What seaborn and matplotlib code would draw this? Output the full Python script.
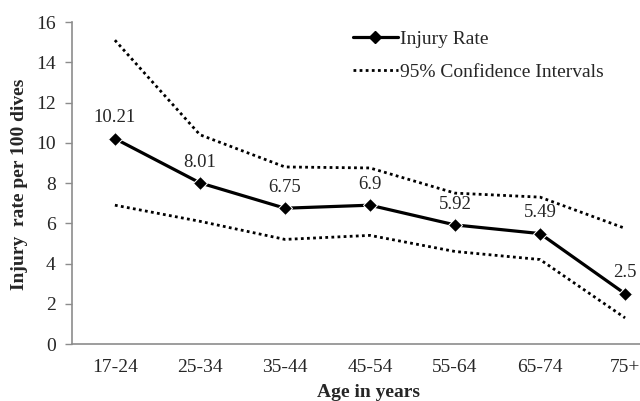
import matplotlib
matplotlib.use("Agg")
import matplotlib.pyplot as plt
import pandas as pd
import seaborn as sns
from matplotlib.lines import Line2D

# Data
age_groups = ["17-24", "25-34", "35-44", "45-54", "55-64", "65-74", "75+"]
injury_rate = [10.21, 8.01, 6.75, 6.9, 5.92, 5.49, 2.5]
ci_upper = [15.1, 10.4, 8.8, 8.75, 7.5, 7.3, 5.75]
ci_lower = [6.9, 6.1, 5.2, 5.4, 4.6, 4.2, 1.3]

df = pd.DataFrame({
    "age": age_groups,
    "rate": injury_rate,
    "upper": ci_upper,
    "lower": ci_lower,
})

sns.set_style("white")
plt.rcParams["font.family"] = ["Liberation Serif", "DejaVu Serif"]

fig = plt.figure(figsize=(6.4, 4.01), dpi=100)
ax = fig.add_axes([0.1131, 0.142, 0.93, 0.803])

dots = (0, (1, 1.2))
sns.lineplot(data=df, x="age", y="upper", color="black", linewidth=2,
             linestyle=dots, ax=ax, sort=False)
sns.lineplot(data=df, x="age", y="lower", color="black", linewidth=2,
             linestyle=dots, ax=ax, sort=False)
sns.lineplot(data=df, x="age", y="rate", color="black", linewidth=2.3,
             marker="D", markersize=7.5, ax=ax, sort=False)

# data labels above each point
for i, v in enumerate(injury_rate):
    ax.annotate(f"{v:g}", (i, v), xytext=(0, 15), textcoords="offset points",
                ha="center", va="center", fontsize=13.5)

ax.set_xlim(-0.5, 6.5)
ax.set_ylim(0, 16)
ax.set_yticks(range(0, 17, 2))

for s in ["top", "right"]:
    ax.spines[s].set_visible(False)
for s in ["left", "bottom"]:
    ax.spines[s].set_color("#8c8c8c")
    ax.spines[s].set_linewidth(1.2)

ax.tick_params(axis="y", which="major", left=True, length=5, width=1,
               color="#8c8c8c", labelsize=14, pad=7)
ax.tick_params(axis="x", bottom=False, labelsize=14, pad=7.5)

ax.set_xlabel("Age in years", fontsize=14, fontweight="bold")
ax.set_ylabel("Injury  rate per 100 dives", fontsize=14, fontweight="bold")
ax.xaxis.set_label_coords(0.498, -0.123)
ax.yaxis.set_label_coords(-0.075, 0.497)

handles = [
    Line2D([], [], color="black", linewidth=2.3, marker="D", markersize=6),
    Line2D([], [], color="black", linewidth=2, linestyle=dots),
]
ax.legend(handles, ["Injury Rate", "95% Confidence Intervals"],
          loc="upper left", bbox_to_anchor=(353 / 640, 1 - 30 / 401),
          bbox_transform=fig.transFigure, borderaxespad=0, borderpad=0,
          frameon=False, fontsize=14, handlelength=2.3, handletextpad=0.1,
          labelspacing=0.8)

fig.savefig("out.png", dpi=100)
